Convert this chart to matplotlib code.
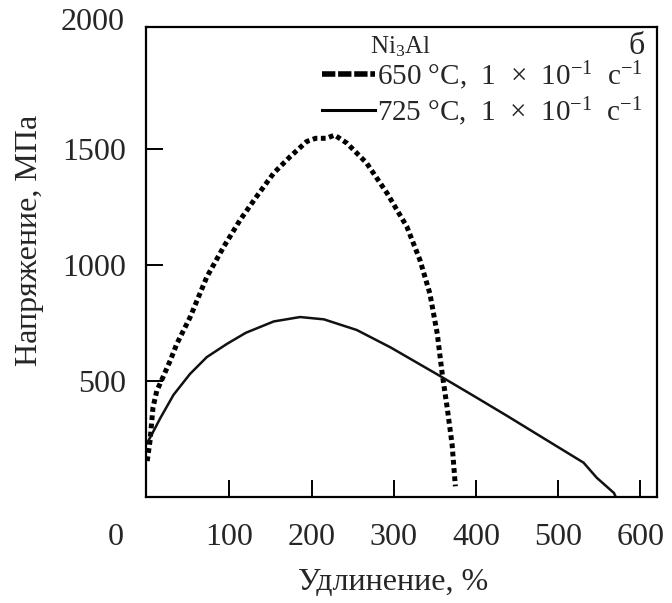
import matplotlib
matplotlib.use("Agg")
import matplotlib.pyplot as plt
from matplotlib.lines import Line2D

plt.rcParams["font.family"] = ["Liberation Serif", "DejaVu Serif"]
plt.rcParams["mathtext.fontset"] = "custom"
plt.rcParams["mathtext.rm"] = "Liberation Serif"
plt.rcParams["mathtext.it"] = "Liberation Serif:italic"

# Stress-strain data, Ni3Al
elong_650 = [0, 3.4, 7, 11.6, 19, 28, 36, 52, 72.5, 93, 113, 133, 154, 174,
             194, 205, 218, 228, 243, 267, 292, 316, 332, 344, 353, 359, 365,
             371, 375]
stress_650 = [154, 241, 385, 457, 515, 588, 660, 774, 949, 1079, 1195, 1296,
              1398, 1469, 1534, 1548, 1548, 1562, 1527, 1441, 1310, 1166,
              1021, 877, 703, 530, 385, 226, 45]

elong_725 = [0, 6, 16, 32, 52, 72.5, 97, 120, 154, 186, 215, 255, 296,
             336, 356, 397, 438, 478, 531, 547, 568, 570]
stress_725 = [232, 272, 340, 440, 530, 603, 660, 708, 757, 776, 766, 720,
              645, 563, 522, 436, 349, 262, 147, 82, 16, 0]

x_ticks = [100, 200, 300, 400, 500, 600]
y_ticks = [500, 1000, 1500]
label_650 = r"650 °C,  1  ×  10$^{-1}$  c$^{-1}$"
label_725 = r"725 °C,  1  ×  10$^{-1}$  c$^{-1}$"

W, H = 672, 603
fig = plt.figure(figsize=(W / 100, H / 100), dpi=100)
ax = fig.add_axes([146 / W, 1 - 496.7 / H, (656.7 - 146) / W, 470 / H])

text_col = "#262626"
ax.plot(elong_650, stress_650, color="black", lw=3.6,
        linestyle=(0, (0.95, 0.7)), dash_capstyle="butt")
ax.plot(elong_725, stress_725, color="#111111", lw=1.8)

ax.set_xlim(-1.5, 620)
ax.set_ylim(0, 2030)
ax.set_xticks(x_ticks)
ax.set_xticklabels([str(v) for v in x_ticks])
ax.set_yticks(y_ticks)
ax.set_yticklabels([str(v) for v in y_ticks])
ax.tick_params(direction="in", length=12, width=1.4, labelsize=23,
               labelcolor=text_col)
ax.tick_params(axis="x", pad=19)
ax.tick_params(axis="y", pad=14)
for s in ax.spines.values():
    s.set_linewidth(1.6)

# corner labels: shared origin and top of stress scale
ax.text(-0.059, -0.086, "0", transform=ax.transAxes, ha="center",
        va="center", fontsize=23, color=text_col)
ax.text(-0.041, 1.010, "2000", transform=ax.transAxes, ha="right",
        va="center", fontsize=23, color=text_col)

ax.set_xlabel("Удлинение, %", fontsize=23, color=text_col, va="center")
ax.xaxis.set_label_coords((393 - 146) / 510.7, (496.7 - 583) / 470)
ax.set_ylabel("Напряжение, МПа", fontsize=23, color=text_col, va="center")
ax.yaxis.set_label_coords((30 - 146) / 510.7, (496.7 - 240) / 470)

handles = [
    Line2D([], [], color="black", lw=4, linestyle=(0, (2.4, 0.5)),
           dash_capstyle="butt"),
    Line2D([], [], color="black", lw=2.2),
]
fig.legend(handles, [label_650, label_725], loc="upper left",
           bbox_to_anchor=(322 / W, 1 - 59 / H), frameon=False,
           fontsize=21, handlelength=1.8, handletextpad=0.1,
           labelspacing=0.12, borderpad=0, borderaxespad=0,
           labelcolor=text_col)
fig.text(370 / W, 1 - 47 / H, "Ni$_3$Al", fontsize=18, color=text_col,
         ha="left", va="center")
fig.text(637 / W, 1 - 47 / H, "б", fontsize=23, color=text_col,
         ha="center", va="center")

fig.savefig("out.png", dpi=100)
